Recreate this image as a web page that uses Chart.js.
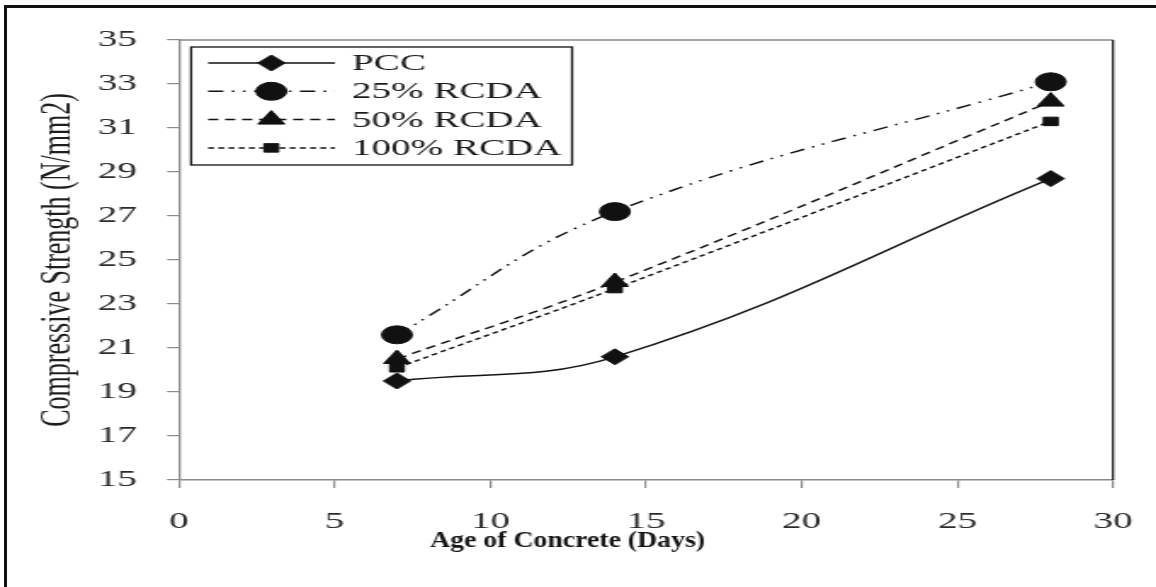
<!DOCTYPE html>
<html>
<head>
<meta charset="utf-8">
<script src="https://cdn.jsdelivr.net/npm/chart.js"></script>
<style>
  html, body { margin: 0; padding: 0; background: #fff; overflow: hidden; }
  #wrap { position: relative; width: 1156px; height: 587px; }
  #chart { position: absolute; left: 0; top: 0; }
  #frame { position: absolute; left: 4px; top: 5px; right: -10px; bottom: -10px;
           border-left: 3px solid #111; border-top: 3px solid #111; pointer-events: none; }
</style>
</head>
<body>
<div id="wrap">
  <canvas id="chart" width="680" height="587" style="width:1156px;height:587px"></canvas>
  <div id="frame"></div>
</div>
<script>
// the source figure is stretched sideways, so the canvas is drawn narrow and widened by CSS
const STRETCH = 1156 / 680;

const days = [7, 14, 28];
const seriesNames = ["PCC", "25% RCDA", "50% RCDA", "100% RCDA"];
const pcc = [19.5, 20.6, 28.7];
const rcda25 = [21.6, 27.2, 33.1];
const rcda50 = [20.5, 24.0, 32.2];
const rcda100 = [20.1, 23.7, 31.3];

const xTitle = "Age of Concrete (Days)";
const yTitle = "Compressive Strength (N/mm2)";

const serif = "'Liberation Serif', 'Times New Roman', serif";

function series(label, values, style, radius, dash) {
  return {
    label: label,
    data: days.map((d, i) => ({x: d, y: values[i]})),
    borderColor: "#161616",
    backgroundColor: "#111",
    borderWidth: 1.5,
    borderDash: dash,
    pointStyle: style,
    pointRadius: radius,
    pointBorderWidth: 1,
    pointBackgroundColor: "#111",
    pointBorderColor: "#111",
    tension: 0.4,
    fill: false
  };
}

const plotFrame = {
  id: "plotFrame",
  beforeDatasetsDraw(chart) {
    const {ctx, chartArea: a} = chart;
    ctx.save();
    ctx.strokeStyle = "#8a8a8a";
    ctx.lineWidth = 1.5;
    ctx.beginPath();
    ctx.moveTo(a.left, a.top);
    ctx.lineTo(a.right, a.top);
    ctx.stroke();
    ctx.strokeStyle = "#111";
    ctx.lineWidth = 1.2;
    ctx.beginPath();
    ctx.moveTo(a.right, a.top);
    ctx.lineTo(a.right, a.bottom);
    ctx.stroke();
    ctx.restore();
  }
};

const boxLegend = {
  id: "boxLegend",
  afterDraw(chart) {
    const ctx = chart.ctx;
    const left = 112.4, top = 47, right = 336.5, bottom = 165;
    ctx.save();
    ctx.fillStyle = "#fff";
    ctx.fillRect(left, top, right - left, bottom - top);
    ctx.strokeStyle = "#111";
    ctx.lineWidth = 1.3;
    ctx.strokeRect(left, top, right - left, bottom - top);

    chart.data.datasets.forEach((ds, i) => {
      const y = 63 + i * 28.3;
      ctx.strokeStyle = "#111";
      ctx.fillStyle = "#111";
      ctx.lineWidth = ds.borderWidth;
      ctx.setLineDash(ds.borderDash || []);
      ctx.beginPath();
      ctx.moveTo(122.4, y);
      ctx.lineTo(197, y);
      ctx.stroke();
      ctx.setLineDash([]);
      ctx.lineWidth = 1;
      Chart.helpers.drawPoint(ctx, {
        pointStyle: ds.pointStyle,
        radius: ds.pointRadius,
        borderWidth: 1,
        rotation: 0
      }, 159.6, y);

      ctx.font = "23px " + serif;
      ctx.textAlign = "left";
      ctx.textBaseline = "middle";
      ctx.fillStyle = "#1a1a1a";
      ctx.fillText(ds.label, 207, y + 1);
    });
    ctx.restore();
  }
};

// x title is narrower than the stretched tick text in the source, so it is drawn here
const xAxisTitle = {
  id: "xAxisTitle",
  afterDraw(chart) {
    const ctx = chart.ctx;
    ctx.save();
    ctx.font = "bold 23px " + serif;
    const w = ctx.measureText(xTitle).width;
    const k = (275 / STRETCH) / w;
    ctx.translate(333.8, 547);
    ctx.scale(k, 1);
    ctx.textAlign = "center";
    ctx.textBaseline = "alphabetic";
    ctx.fillStyle = "#141414";
    ctx.fillText(xTitle, 0, 0);
    ctx.restore();
  }
};

const tickFont = {family: serif, size: 23};

new Chart(document.getElementById("chart"), {
  type: "line",
  data: {
    datasets: [
      series(seriesNames[0], pcc, "rectRot", 8, []),
      series(seriesNames[1], rcda25, "circle", 9, [9, 5, 1.5, 5, 1.5, 5]),
      series(seriesNames[2], rcda50, "triangle", 9, [6, 4]),
      series(seriesNames[3], rcda100, "rect", 6, [3.5, 2.5])
    ]
  },
  options: {
    responsive: false,
    devicePixelRatio: 1,
    animation: false,
    layout: {padding: {top: 40, right: 25.3, left: 0, bottom: 0}},
    plugins: {
      legend: {display: false},
      tooltip: {enabled: false}
    },
    scales: {
      x: {
        type: "linear",
        min: 0,
        max: 30,
        // tall line height pushes labels down without the big tick padding
        // (which chart.js would also add to the right edge)
        ticks: {stepSize: 5, padding: 1.8, color: "#2b2b2b",
                font: {family: serif, size: 23, lineHeight: 2.8}},
        grid: {drawOnChartArea: false, tickLength: 8, color: "#8a8a8a", lineWidth: 1.2},
        border: {color: "#8a8a8a", width: 1.5},
        afterFit(scale) { scale.height = 107; }
      },
      y: {
        min: 15,
        max: 35,
        ticks: {stepSize: 2, padding: 17.7, color: "#2b2b2b", font: tickFont},
        grid: {drawOnChartArea: false, tickLength: 7, color: "#8a8a8a", lineWidth: 1.2},
        border: {color: "#8a8a8a", width: 1.3},
        title: {
          display: true,
          text: yTitle,
          color: "#1e1e1e",
          font: {family: serif, size: 26},
          padding: {top: 19, bottom: 0}
        },
        afterFit(scale) { scale.width = 105.3; }
      }
    }
  },
  plugins: [plotFrame, boxLegend, xAxisTitle]
});
</script>
</body>
</html>
